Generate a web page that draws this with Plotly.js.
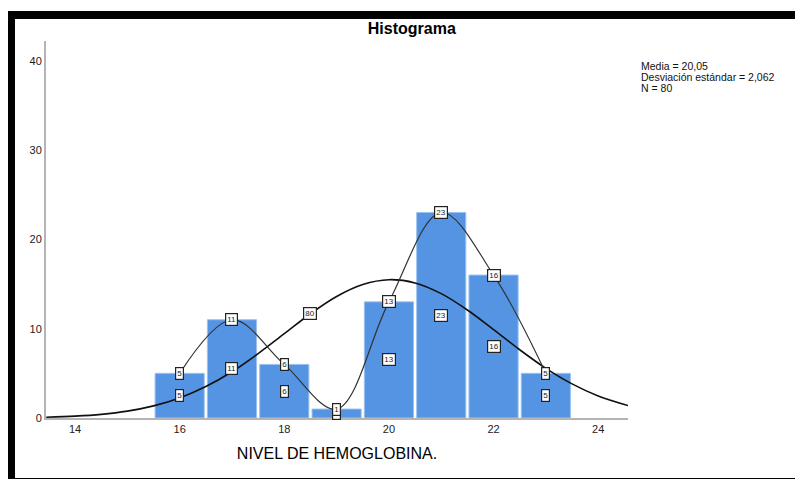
<!DOCTYPE html>
<html>
<head>
<meta charset="utf-8">
<script src="https://cdn.plot.ly/plotly-3.0.1.min.js"></script>
<style>
  html, body { margin: 0; padding: 0; background: #ffffff; }
  #wrap { position: relative; width: 795px; height: 479px; overflow: hidden; }
  #chart { position: absolute; left: 0; top: 0; width: 795px; height: 479px; }
  #frame { position: absolute; left: 8px; top: 11px; width: 800px; height: 459px;
           border-top: 8px solid #000; border-left: 7px solid #000; border-bottom: 1px solid #000;
           pointer-events: none; }
</style>
</head>
<body>
<div id="wrap">
  <div id="chart"></div>
  <div id="frame"></div>
</div>
<script>
// Histogram data
const binCenters = [16, 17, 18, 19, 20, 21, 22, 23];
const counts = [5, 11, 6, 1, 13, 23, 16, 5];

// Normal curve overlay
const normalX = [13.45, 14, 14.5, 15, 15.5, 16, 16.5, 17, 17.5, 18, 18.5, 19, 19.5, 20, 20.5, 21, 21.5, 22, 22.5, 23, 23.5, 24, 24.57];
const normalY = [0.09, 0.21, 0.41, 0.77, 1.36, 2.25, 3.52, 5.18, 7.21, 9.44, 11.67, 13.6, 14.94, 15.48, 15.12, 13.92, 12.09, 9.9, 7.64, 5.56, 3.82, 2.47, 1.4];

// Box labels
const totalLabelX = [18.5];
const totalLabelY = [11.7];
const totalLabelText = ["80"];

const statsLines = ["Media = 20,05", "Desviación estándar = 2,062", "N = 80"];
const xTicks = [14, 16, 18, 20, 22, 24];
const yTicks = [0, 10, 20, 30, 40];

const FONT = "Arial, 'Liberation Sans', sans-serif";

const traces = [
  {
    type: "bar", x: binCenters, y: counts, width: 0.94,
    marker: { color: "#5494e2", line: { color: "#9dc2ef", width: 1 } },
    hoverinfo: "skip", showlegend: false
  },
  {
    type: "scatter", mode: "lines", x: normalX, y: normalY,
    line: { color: "#111111", width: 1.6, shape: "spline" },
    hoverinfo: "skip", showlegend: false
  },
  {
    type: "scatter", mode: "lines", x: binCenters, y: counts,
    line: { color: "#333333", width: 1.2, shape: "spline", smoothing: 1 },
    hoverinfo: "skip", showlegend: false
  }
];

function boxAnn(x, y, text) {
  return {
    x: x, y: y, xref: "x", yref: "y", text: text, showarrow: false,
    font: { family: FONT, size: 8, color: "#222" },
    bgcolor: "#ffffff", bordercolor: "#222222", borderwidth: 1.2, borderpad: 1
  };
}

const annotations = [];
binCenters.forEach((b, i) => {
  annotations.push(boxAnn(b, counts[i] / 2, String(counts[i])));
});
binCenters.forEach((b, i) => {
  annotations.push(boxAnn(b, counts[i], String(counts[i])));
});
totalLabelX.forEach((x, i) => annotations.push(boxAnn(x, totalLabelY[i], totalLabelText[i])));
statsLines.forEach((t, i) => {
  annotations.push({
    xref: "paper", yref: "paper", x: 1.021, y: 0.9345 - i * 0.0292, xanchor: "left", yanchor: "middle",
    align: "left", showarrow: false, text: t, borderpad: 0,
    font: { family: FONT, size: 10.5, color: "#111" }
  });
});

const layout = {
  width: 795, height: 479,
  margin: { l: 46, r: 167, t: 41, b: 61 },
  paper_bgcolor: "rgba(0,0,0,0)", plot_bgcolor: "rgba(0,0,0,0)",
  title: {
    text: "<b>Histograma</b>", xref: "container", yref: "container",
    x: 0.518, y: 0.94, xanchor: "center", yanchor: "middle",
    font: { family: FONT, size: 16, color: "#000" }
  },
  xaxis: {
    range: [13.445, 24.57], tickvals: xTicks, ticks: "", showgrid: false, zeroline: false,
    showline: true, linecolor: "#b4b4b4", linewidth: 2,
    tickfont: { family: FONT, size: 11, color: "#222" },
    title: { text: "NIVEL DE HEMOGLOBINA.", font: { family: FONT, size: 16, color: "#000" }, standoff: 14 }
  },
  yaxis: {
    range: [0, 42.2], tickvals: yTicks, ticks: "", showgrid: false, zeroline: false,
    showline: true, linecolor: "#b4b4b4", linewidth: 2,
    tickfont: { family: FONT, size: 11, color: "#222" }
  },
  annotations: annotations,
  showlegend: false
};

Plotly.newPlot("chart", traces, layout, { displayModeBar: false, staticPlot: true });
</script>
</body>
</html>
